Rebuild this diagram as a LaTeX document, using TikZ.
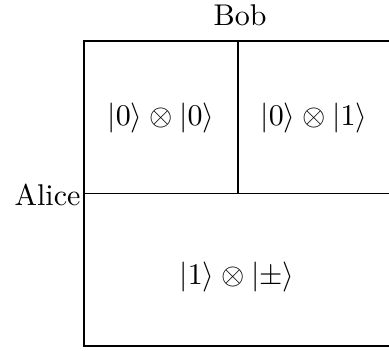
\documentclass[tikz,border=0pt]{standalone}
\begin{document}
\begin{tikzpicture}[x=0.3333pt,y=-0.3333pt,
  frame/.style={line width=0.65pt,line cap=rect},
  divider/.style={line width=0.45pt},
  lbl/.style={inner sep=0pt,font=\normalsize}]
\useasboundingbox (0,0) rectangle (389,351);
\coordinate (tl) at (84,41);
\coordinate (tr) at (389,41);
\coordinate (bl) at (84,346);
\coordinate (br) at (389,346);
\coordinate (ml) at (84,193.5);
\coordinate (mr) at (389,193.5);
\coordinate (vt) at (238,41);
\coordinate (vb) at (238,193.5);
\draw[frame] (tr) -- (tl) -- (bl) -- (br);
\draw[frame] (ml) -- (mr);
\draw[divider] (vt) -- (vb);
\node[lbl,anchor=base] (bob) at (240,26) {Bob};
\node[lbl,anchor=base east] (alice) at (81,205) {Alice};
\node[lbl] (c00) at (161,118) {$|0\rangle\otimes|0\rangle$};
\node[lbl] (c01) at (314,118) {$|0\rangle\otimes|1\rangle$};
\node[lbl] (c1pm) at (237,277) {$|1\rangle\otimes|\pm\rangle$};
\end{tikzpicture}
\end{document}
